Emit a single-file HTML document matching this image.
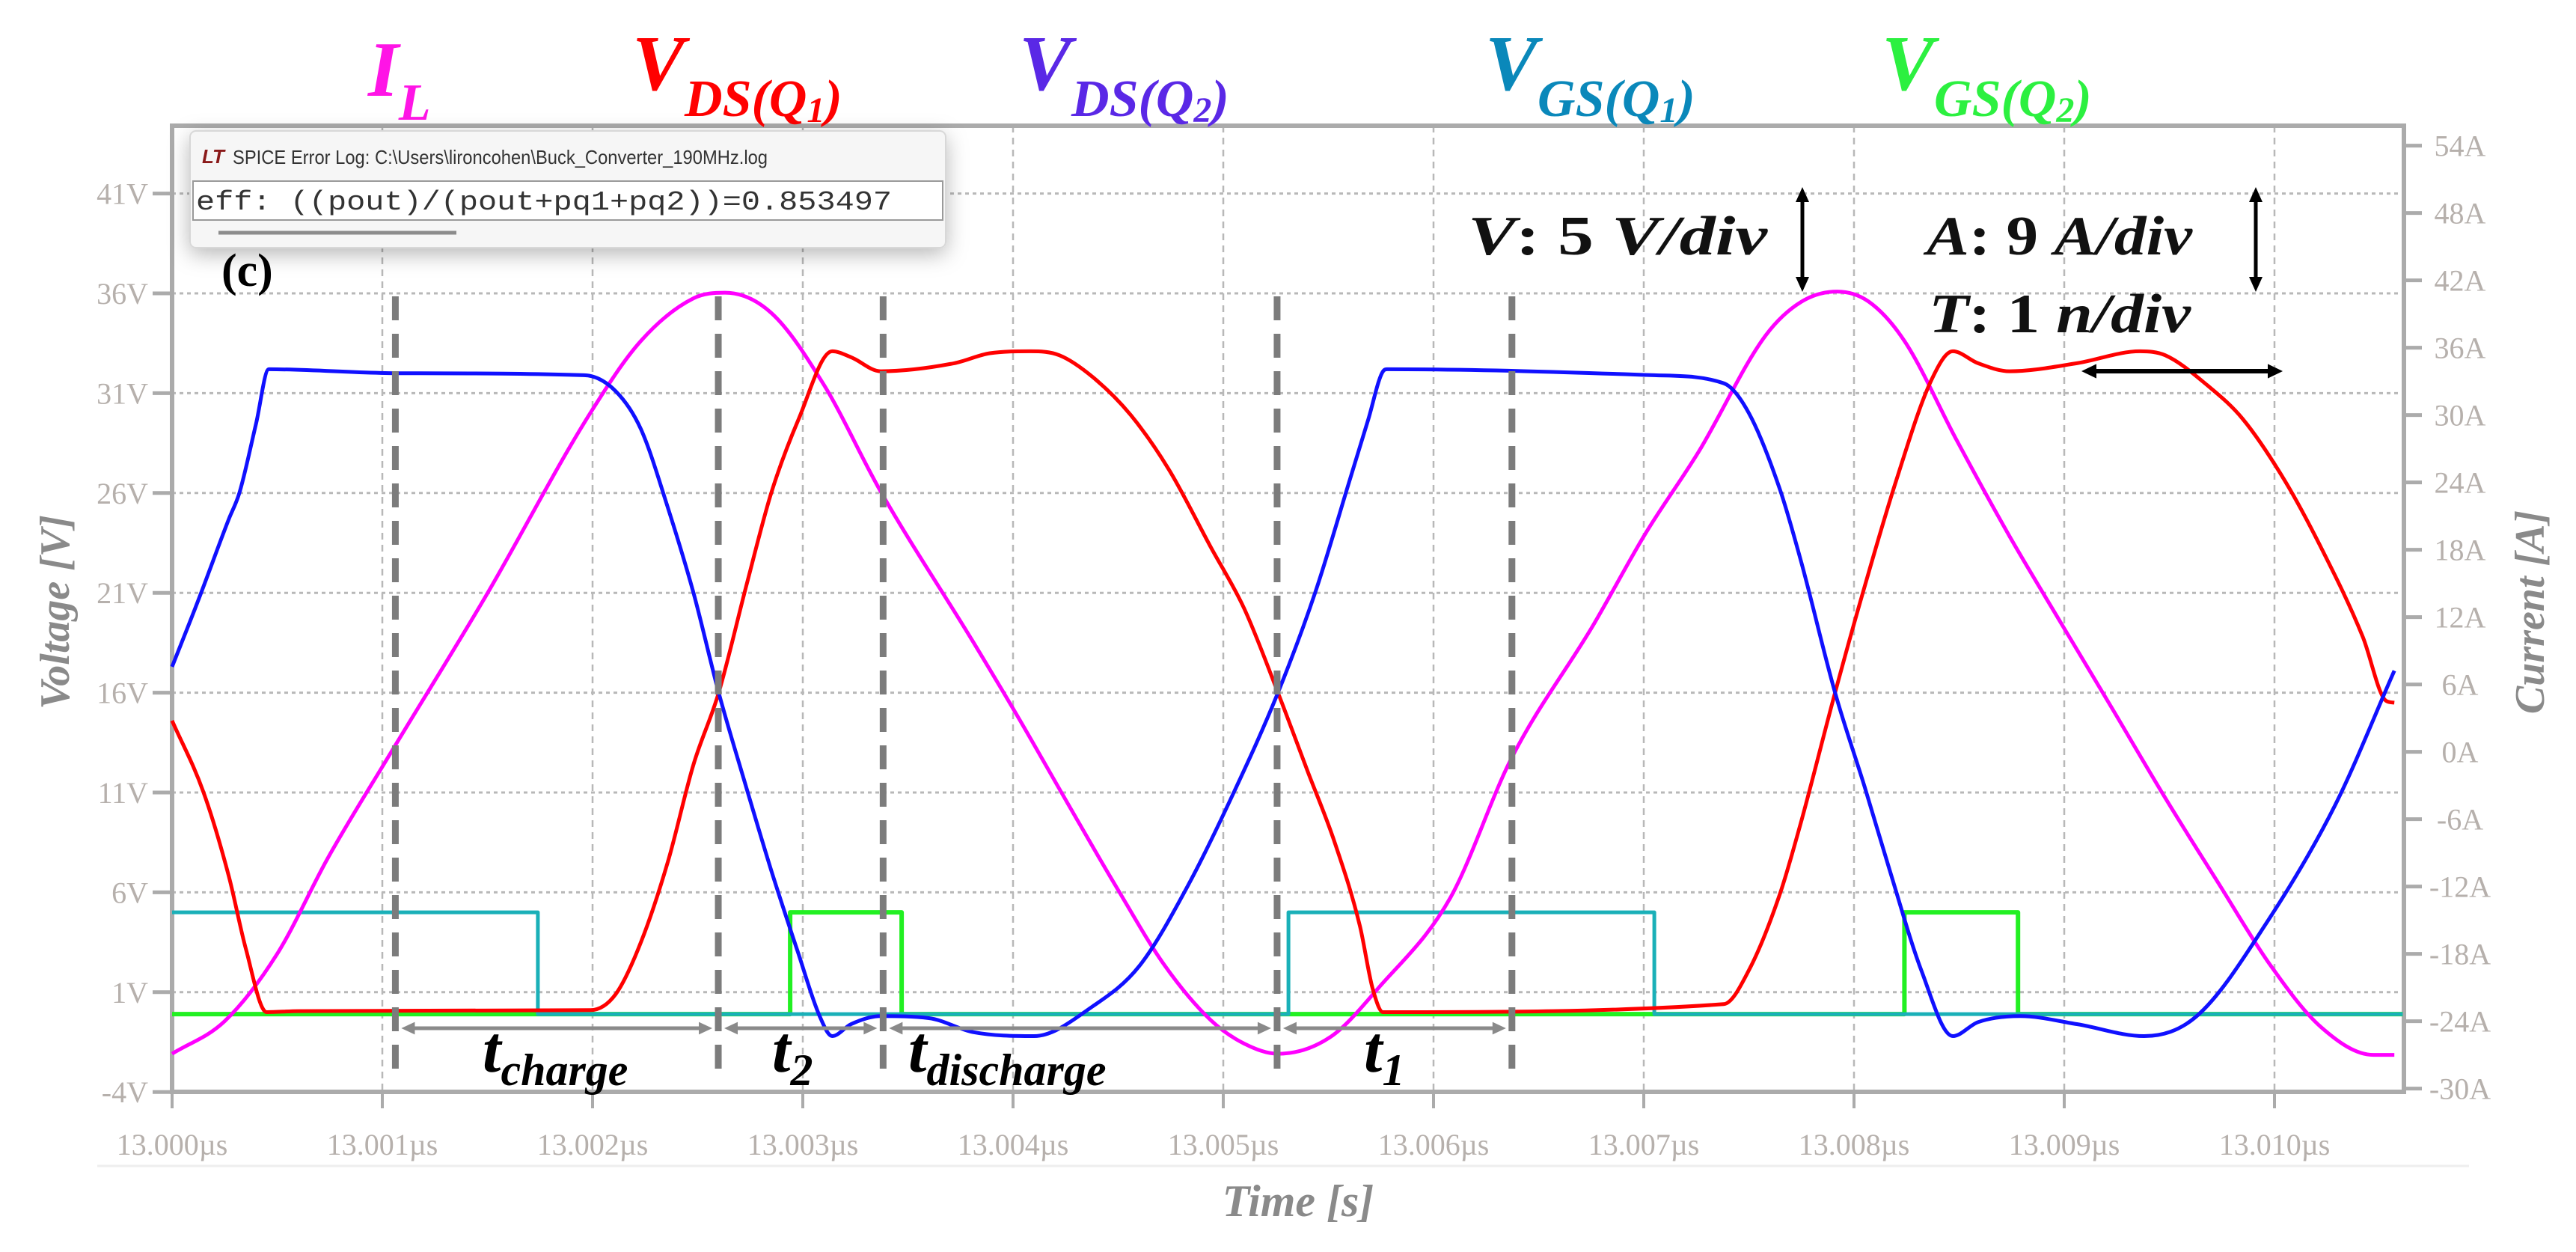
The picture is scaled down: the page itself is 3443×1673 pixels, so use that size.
<!DOCTYPE html>
<html><head><meta charset="utf-8"><style>
html,body{margin:0;padding:0;background:#fff;}
svg{display:block;}
.tick{font-family:"Liberation Serif",serif;font-size:40px;fill:#b6b0ac;}
.ttl{font-family:"Liberation Serif",serif;font-style:italic;font-weight:bold;}
</style></head><body>
<svg id="chart" width="3443" height="1673" viewBox="0 0 3443 1673" xmlns="http://www.w3.org/2000/svg">
<rect width="3443" height="1673" fill="#fff"/>
<line x1="130" y1="1558" x2="3300" y2="1558" stroke="#eeeeee" stroke-width="3"/>
<g id="grid"></g>
<g id="axes"></g>
<g id="series"></g>
<g id="annot"></g>

<text class="ttl" x="492" y="128" fill="#ff14e6" font-size="105">I<tspan font-size="70" dy="32">L</tspan></text>
<text class="ttl" x="845" y="120" fill="#ff0000" font-size="105">V<tspan font-size="70" dy="35">DS(Q</tspan><tspan font-size="48" dy="8">1</tspan><tspan font-size="70" dy="-8">)</tspan></text>
<text class="ttl" x="1362" y="120" fill="#5a28e6" font-size="105">V<tspan font-size="70" dy="35">DS(Q</tspan><tspan font-size="48" dy="8">2</tspan><tspan font-size="70" dy="-8">)</tspan></text>
<text class="ttl" x="1985" y="120" fill="#0a88ba" font-size="105">V<tspan font-size="70" dy="35">GS(Q</tspan><tspan font-size="48" dy="8">1</tspan><tspan font-size="70" dy="-8">)</tspan></text>
<text class="ttl" x="2515" y="120" fill="#2cf040" font-size="105">V<tspan font-size="70" dy="35">GS(Q</tspan><tspan font-size="48" dy="8">2</tspan><tspan font-size="70" dy="-8">)</tspan></text>

<text class="ttl" transform="translate(92,818) rotate(-90)" text-anchor="middle" font-size="56" fill="#8a8a8a">Voltage [V]</text>
<text class="ttl" transform="translate(3400,818) rotate(-90)" text-anchor="middle" font-size="56" fill="#8a8a8a">Current [A]</text>
<text class="ttl" x="1735" y="1625" text-anchor="middle" font-size="60" fill="#8a8a8a">Time [s]</text>

<g font-family="Liberation Serif, serif" font-weight="bold" fill="#111">
<text x="1962" y="340" font-size="74" textLength="400" lengthAdjust="spacingAndGlyphs"><tspan font-style="italic">V</tspan>: 5 <tspan font-style="italic">V/div</tspan></text>
<text x="2575" y="340" font-size="74" textLength="355" lengthAdjust="spacingAndGlyphs"><tspan font-style="italic">A</tspan>: 9 <tspan font-style="italic">A/div</tspan></text>
<text x="2578" y="444" font-size="74" textLength="350" lengthAdjust="spacingAndGlyphs"><tspan font-style="italic">T</tspan>: 1 <tspan font-style="italic">n/div</tspan></text>
</g>

<defs><filter id="sh" x="-10%" y="-30%" width="125%" height="170%"><feDropShadow dx="0" dy="8" stdDeviation="14" flood-color="#000" flood-opacity="0.28"/></filter></defs>
<g filter="url(#sh)">
<rect x="254" y="175" width="1010" height="156" rx="8" fill="#f6f6f6" stroke="#d8d8d8" stroke-width="2"/>
</g>
<text x="270" y="218" font-family="Liberation Sans, sans-serif" font-style="italic" font-weight="bold" font-size="26" fill="#8a1a1a">LT</text>
<text x="311" y="219" font-family="Liberation Sans, sans-serif" font-size="26" fill="#333" textLength="715" lengthAdjust="spacingAndGlyphs">SPICE Error Log: C:\Users\lironcohen\Buck_Converter_190MHz.log</text>
<rect x="258" y="242" width="1002" height="52" fill="#fff" stroke="#9a9a9a" stroke-width="2"/>
<text x="262" y="280" font-family="Liberation Mono, monospace" font-size="36" fill="#333" textLength="930" lengthAdjust="spacingAndGlyphs">eff: ((pout)/(pout+pq1+pq2))=0.853497</text>
<line x1="292" y1="311" x2="610" y2="311" stroke="#8c8c8c" stroke-width="5"/>
<text x="296" y="382" font-family="Liberation Serif, serif" font-weight="bold" font-size="62" fill="#000">(c)</text>
</svg>
<script>
var ilT = [0,0.25,0.5,0.74,1.04,1.49,1.99,2.23,2.48,2.63,2.85,3.1,3.37,3.81,4.03,4.26,4.49,4.72,4.94,5.1,5.26,5.51,5.74,6.08,6.37,6.76,7.01,7.26,7.58,7.75,7.92,8.07,8.24,8.49,8.74,8.99,9.23,9.48,9.73,9.98,10.22,10.47,10.57];
var ilA = [-26.9,-24,-18,-9.5,-0.1,13.8,30.2,36.6,40.4,40.9,39.1,32.7,23.2,9.8,2.9,-4.6,-12,-19,-23.9,-26,-26.9,-25.4,-21,-13,-0.6,11.3,19.5,26.7,37.1,40.1,41,40.1,36.6,27.7,19.2,11.3,3.8,-4.1,-11.6,-19,-24.5,-27,-27];
var vds1T = [0,0.15,0.27,0.35,0.45,0.6,1.99,2.11,2.23,2.36,2.48,2.6,2.73,2.85,2.98,3.14,3.23,3.37,3.72,3.89,4.08,4.22,4.38,4.56,4.74,4.94,5.1,5.26,5.4,5.53,5.65,5.71,5.76,7.38,7.5,7.65,7.75,7.91,8.05,8.2,8.37,8.47,8.59,8.74,9.06,9.36,9.48,9.68,9.85,10.05,10.22,10.42,10.53,10.57];
var vds1V = [14.6,11,6.8,3.2,0,0.05,0.1,0.9,3.5,7.6,12.4,16,21.3,26,29.7,33.1,32.8,32.1,32.5,33,33.1,32.9,31.8,29.9,27.2,23.3,20.2,16,12.1,8.5,4.3,1.2,0,0.4,2.1,6,9.6,16,21.3,26.6,31.7,33.1,32.5,32.1,32.5,33.1,32.9,31.4,29.7,26.6,23.3,18.8,15.6,15.5];
var vds2T = [0,0.12,0.27,0.32,0.4,0.46,1.07,1.96,2.11,2.23,2.36,2.48,2.6,2.73,2.85,2.98,3.08,3.14,3.23,3.37,3.6,3.81,4.1,4.38,4.6,4.83,5.05,5.26,5.44,5.6,5.69,5.76,5.78,7.05,7.38,7.5,7.65,7.75,7.91,8.05,8.17,8.32,8.47,8.59,8.79,9.06,9.38,9.63,9.97,10.29,10.57];
var vds2V = [17.3,20.5,24.7,26,29.5,32.2,32,31.9,31.1,29.2,25.2,21,16,11.3,7.1,2.9,-0.2,-1.2,-0.6,-0.2,-0.3,-1,-1.2,0.3,2.3,6.3,11,16,21.1,26.6,29.7,32.1,32.2,31.9,31.5,30,26.1,22.5,16,11.3,7.1,2.1,-1.2,-0.5,-0.2,-0.6,-1.2,-0.2,4.6,10.4,17.1];
var vgs1T = [0,1.74,1.74,5.31,5.31,7.05,7.05,10.61];
var vgs1V = [5,5,-0.1,-0.1,5,5,-0.1,-0.1];
var vgs2T = [0,2.94,2.94,3.47,3.47,8.24,8.24,8.78,8.78,10.61];
var vgs2V = [-0.1,-0.1,5,5,-0.1,-0.1,5,5,-0.1,-0.1];
var xTicks = ["13.000µs","13.001µs","13.002µs","13.003µs","13.004µs","13.005µs","13.006µs","13.007µs","13.008µs","13.009µs","13.010µs"];
var vTicks = [41,36,31,26,21,16,11,6,1,-4];
var aTicks = [54,48,42,36,30,24,18,12,6,0,-6,-12,-18,-24,-30];
var markerT = [1.062,2.598,3.382,5.256,6.373];

var DY=6;
var X0=230, XR=3213, YT=168, YB=1453+DY;
function xs(t){return 230+281*t;}
function yv(v){return 386+DY+(36-v)*26.68;}
function ya(a){return 998.6+DY-a*15;}
var NS="http://www.w3.org/2000/svg";
function mk(tag,attrs,parent){var e=document.createElementNS(NS,tag);for(var k in attrs)e.setAttribute(k,attrs[k]);parent.appendChild(e);return e;}
var grid=document.getElementById('grid'),axes=document.getElementById('axes'),ser=document.getElementById('series'),ann=document.getElementById('annot');

for(var i=1;i<xTicks.length;i++){
  var g=mk('line',{x1:xs(i),y1:YT,x2:xs(i),y2:YB,stroke:'#b8b8b8','stroke-width':2.5,'stroke-dasharray':'9 7'},grid);
  
  
}
for(var i=0;i<vTicks.length-1;i++){
  var g=mk('line',{x1:X0,y1:yv(vTicks[i]),x2:XR,y2:yv(vTicks[i]),stroke:'#b8b8b8','stroke-width':3,'stroke-dasharray':'5 5'},grid);
  
  
}
var fr=mk('path',{d:'M'+X0+' '+YT+'H'+XR+'V'+YB+'H'+X0+'Z',fill:'none',stroke:'#ababab','stroke-width':6},axes);


xTicks.forEach(function(lab,i){
  var tk=mk('line',{x1:xs(i),y1:YB,x2:xs(i),y2:YB+22,stroke:'#ababab','stroke-width':4},axes);
  
  
  var t=mk('text',{x:xs(i),y:1543,'text-anchor':'middle','class':'tick'},axes);
  t.textContent=lab;
  
  
});
vTicks.forEach(function(v){
  var tk=mk('line',{x1:X0-26,y1:yv(v),x2:X0,y2:yv(v),stroke:'#ababab','stroke-width':5},axes);
  
  
  var t=mk('text',{x:X0-32,y:yv(v)+14,'text-anchor':'end','class':'tick'},axes);
  t.textContent=v+'V';
  
  
});
aTicks.forEach(function(a){
  var tk=mk('line',{x1:XR,y1:ya(a),x2:XR+24,y2:ya(a),stroke:'#ababab','stroke-width':5},axes);
  
  
  var t=mk('text',{x:XR+75,y:ya(a)+14,'text-anchor':'middle','class':'tick'},axes);
  t.textContent=a+'A';
  
  
});
// monotone cubic (Fritsch-Carlson) in pixel space
function line(ts,vs,fy,color,name,w,smooth){
  var X=[],Y=[];for(var i=0;i<ts.length;i++){X.push(xs(ts[i]));Y.push(fy(vs[i]));}
  var n=X.length,d='M'+X[0].toFixed(1)+' '+Y[0].toFixed(1);
  if(!smooth){for(var i=1;i<n;i++)d+='L'+X[i].toFixed(1)+' '+Y[i].toFixed(1);}
  else{
    var s=[],m=[];
    for(var i=0;i<n-1;i++){var dx=X[i+1]-X[i];s.push(dx>0?(Y[i+1]-Y[i])/dx:0);}
    m[0]=s[0];m[n-1]=s[n-2];
    for(var i=1;i<n-1;i++){m[i]=(s[i-1]*s[i]<=0)?0:(s[i-1]+s[i])/2;}
    for(var i=0;i<n-1;i++){
      if(s[i]===0){m[i]=0;m[i+1]=0;continue;}
      var a=m[i]/s[i],b=m[i+1]/s[i],h=a*a+b*b;
      if(h>9){var tt=3/Math.sqrt(h);m[i]=tt*a*s[i];m[i+1]=tt*b*s[i];}
    }
    for(var i=0;i<n-1;i++){
      var dx=(X[i+1]-X[i])/3;
      d+='C'+(X[i]+dx).toFixed(1)+' '+(Y[i]+m[i]*dx).toFixed(1)+' '+(X[i+1]-dx).toFixed(1)+' '+(Y[i+1]-m[i+1]*dx).toFixed(1)+' '+X[i+1].toFixed(1)+' '+Y[i+1].toFixed(1);
    }
  }
  var p=mk('path',{d:d,fill:'none',stroke:color,'stroke-width':w||5,'stroke-linejoin':'round'},ser);
  
  
}
line(vgs2T,vgs2V,yv,'#22f022','series-vgs-q2',6,false);
line(vgs1T,vgs1V,yv,'#1ab0b8','series-vgs-q1',5,false);
line(ilT,ilA,ya,'#ff00ff','series-il',5,true);
line(vds1T,vds1V,yv,'#ff0000','series-vds-q1',5,true);
line(vds2T,vds2V,yv,'#1010ff','series-vds-q2',5,true);

markerT.forEach(function(t){
  var l=mk('line',{x1:xs(t),y1:390+DY,x2:xs(t),y2:1434+DY,stroke:'#7c7c7c','stroke-width':9,'stroke-dasharray':'32 18'},ann);
  
  
});
function arrow(x1,x2,y,col,w,hs,name){
  var g=mk('g',{},ann);
  
  
  mk('line',{x1:x1+hs,y1:y,x2:x2-hs,y2:y,stroke:col,'stroke-width':w},g);
  mk('path',{d:'M'+x1+' '+y+'l'+(hs+4)+' '+(-hs*0.6)+'v'+(hs*1.2)+'Z',fill:col},g);
  mk('path',{d:'M'+x2+' '+y+'l'+(-hs-4)+' '+(-hs*0.6)+'v'+(hs*1.2)+'Z',fill:col},g);
}
for(var i=0;i<markerT.length-1;i++){arrow(xs(markerT[i])+8,xs(markerT[i+1])-8,1368+DY,'#8a8a8a',5,14,'interval-arrow');}
function vArrow(x,y1,y2,name){
  var g=mk('g',{},ann);
  
  
  mk('line',{x1:x,y1:y1+14,x2:x,y2:y2-14,stroke:'#000','stroke-width':5},g);
  mk('path',{d:'M'+x+' '+y1+'l-9 20h18Z',fill:'#000'},g);
  mk('path',{d:'M'+x+' '+y2+'l-9 -20h18Z',fill:'#000'},g);
}
vArrow(2409,250,390,'v-div-arrow');
vArrow(3015,250,390,'a-div-arrow');
arrow(2782,3051,496,'#000',6,16,'t-div-arrow');

var labs=[[645,'t','charge'],[1032,'t','2'],[1214,'t','discharge'],[1823,'t','1']];
labs.forEach(function(l){
  var t=mk('text',{x:l[0],y:1432,'class':'ttl','font-size':88,fill:'#000'},ann);
  
  
  t.appendChild(document.createTextNode(l[1]));
  var s=mk('tspan',{'font-size':60,dy:18},t);
  s.textContent=l[2];
});
</script>
</body></html>
